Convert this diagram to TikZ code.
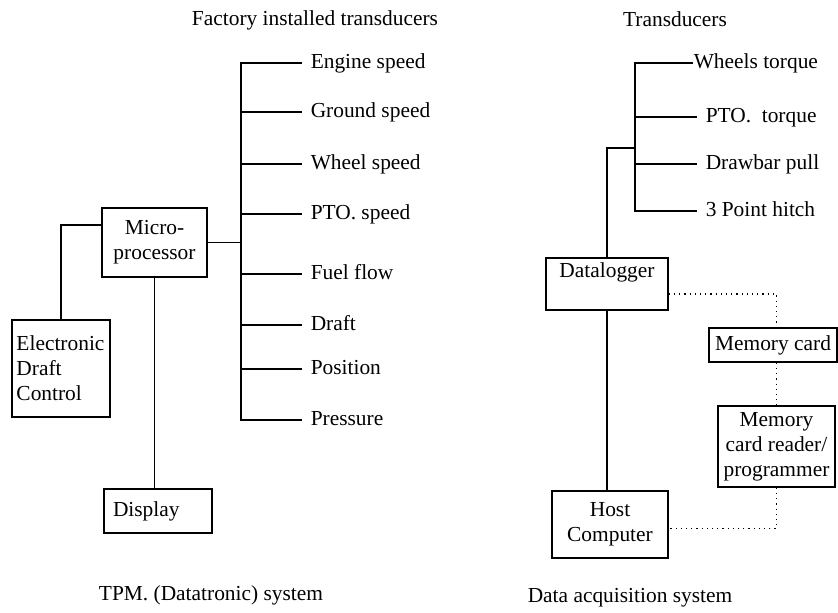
\documentclass[tikz,border=0pt]{standalone}
\usepackage{fontspec}
\setmainfont{Liberation Serif}

\begin{document}
\begin{tikzpicture}[
    x=0.5pt, y=-0.5pt,
    font=\fontsize{10.7pt}{12.5pt}\selectfont,
    line width=0.75pt,
    box/.style={draw, rectangle, align=center, inner sep=2pt},
    tlabel/.style={anchor=west, inner xsep=4pt, inner ysep=0pt,
                   text height=1.5ex, text depth=.25ex},
    link/.style={dotted, line width=0.6pt}
  ]
  \useasboundingbox (0,0) rectangle (838,613);

  % ---- left: TPM (Datatronic) system ----
  \node (ftitle) at (315,20) {Factory installed transducers};

  \node[box, minimum width=52.5pt, minimum height=34.5pt] (micro) at (154.5,242.5)
    {Micro-\\processor};
  \node[box, align=left, text width=44.5pt, inner xsep=2.25pt, minimum height=48.5pt]
    (edc) at (61,368.5) {Electronic\\Draft\\Control};
  \node[box, align=left, text width=45pt, inner xsep=4.5pt, minimum height=22pt]
    (disp) at (158,511) {Display};

  \node[tlabel] (eng)   at (302,63)  {Engine speed};
  \node[tlabel] (gnd)   at (302,112) {Ground speed};
  \node[tlabel] (whl)   at (302,164) {Wheel speed};
  \node[tlabel] (ptos)  at (302,214) {PTO. speed};
  \node[tlabel] (fuel)  at (302,274) {Fuel flow};
  \node[tlabel] (draft) at (302,325) {Draft};
  \node[tlabel] (pos)   at (302,369) {Position};
  \node[tlabel] (press) at (302,420) {Pressure};

  \coordinate (fbus) at (241,244);
  \draw (eng.west) -| (fbus |- press.west) -- (press.west);
  \draw (fbus |- gnd.west) -- (gnd.west);
  \draw (fbus |- whl.west) -- (whl.west);
  \draw (fbus |- ptos.west) -- (ptos.west);
  \draw (fbus |- fuel.west) -- (fuel.west);
  \draw (fbus |- draft.west) -- (draft.west);
  \draw (fbus |- pos.west) -- (pos.west);

  \draw (micro.east) -- (micro.east -| fbus);
  \draw ([yshift=8.75pt]micro.west) -| (edc.north);
  \draw (micro.south) -- (micro.south |- disp.north);

  \node (fcap) at (211,595) {TPM. (Datatronic) system};

  % ---- right: data acquisition system ----
  \node (ttitle) at (675,19) {Transducers};

  \node[tlabel, inner xsep=0pt] (wtq) at (693,63) {Wheels torque};
  \node[tlabel] (ptot)  at (697,117) {PTO.\ \ torque};
  \node[tlabel] (pull)  at (697,164) {Drawbar pull};
  \node[tlabel] (hitch) at (697,211) {3 Point hitch};

  \coordinate (tbus) at (635,148);
  \draw (wtq.west) -| (tbus |- hitch.west) -- (hitch.west);
  \draw (tbus |- ptot.west) -- (ptot.west);
  \draw (tbus |- pull.west) -- (pull.west);

  \node[box, inner ysep=0pt, text height=10pt, text depth=16pt, minimum width=61pt]
    (dlog) at (607,284) {Datalogger};
  \draw (dlog.north) |- (tbus);

  \node[box, minimum width=58pt, minimum height=33.5pt] (host) at (610,524.5)
    {Host\\Computer};
  \node[box, minimum width=64pt, minimum height=17pt] (mcard) at (773,345)
    {Memory card};
  \node[box, minimum width=58.5pt, minimum height=40.5pt] (reader) at (776.5,446.5)
    {Memory\\card reader/\\programmer};

  \draw (dlog.south) -- (dlog.south |- host.north);
  \draw[link] ([yshift=-5pt]dlog.east) -| (mcard.north -| reader.north);
  \draw[link] (mcard.south -| reader.north) -- (reader.north);
  \draw[link] (reader.south) |- ([yshift=-2pt]host.east);

  \node (dcap) at (630,598) {Data acquisition system};

\end{tikzpicture}
\end{document}
